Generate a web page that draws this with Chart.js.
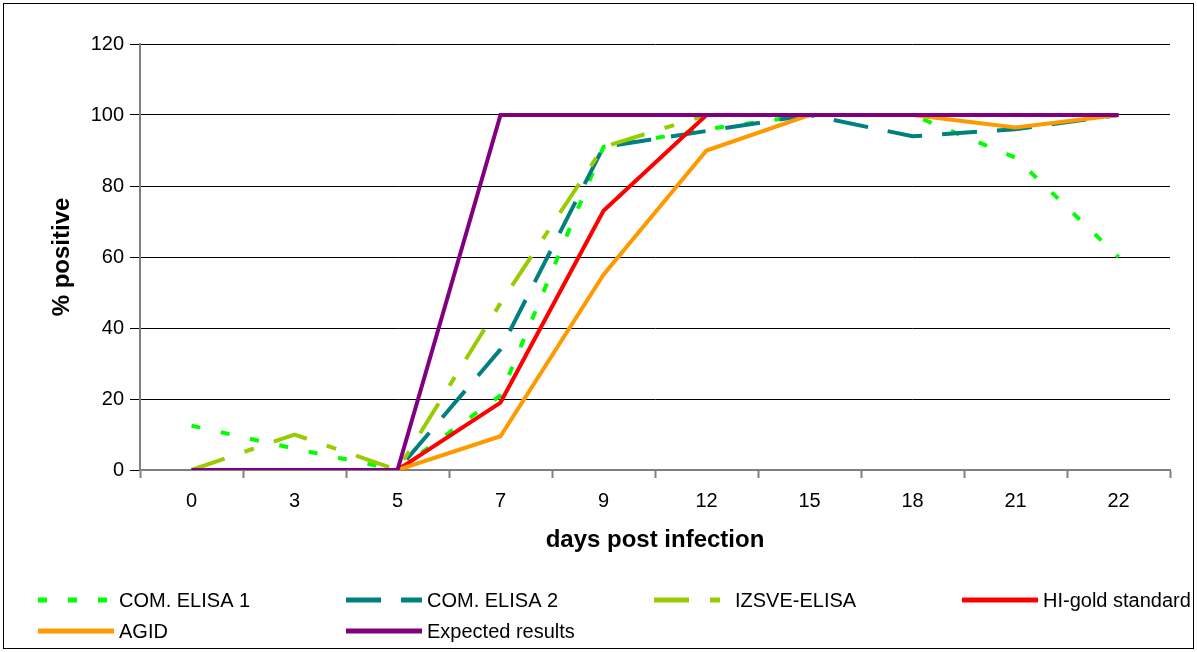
<!DOCTYPE html>
<html>
<head>
<meta charset="utf-8">
<script src="https://cdn.jsdelivr.net/npm/chart.js@4/dist/chart.umd.min.js"></script>
<style>
  html, body { margin: 0; padding: 0; background: #fff; }
  #wrap { position: relative; width: 1197px; height: 652px; }
</style>
</head>
<body>
<div id="wrap"><canvas id="chart"></canvas></div>
<script>
// days post infection (category axis)
const days = ['0', '3', '5', '7', '9', '12', '15', '18', '21', '22'];

// % positive per test
const comElisa1  = [12.5, 6, 0, 21, 91, 96, 100, 100, 88, 60];
const comElisa2  = [0, 0, 0, 34, 91, 95.5, 100, 94, 96, 100];
const izsveElisa = [0, 10, 0, 47, 91, 100, 100, 100, 100, 100];
const hiGold     = [0, 0, 0, 19, 73, 100, 100, 100, 100, 100];
const agid       = [0, 0, 0, 9.5, 55, 90, 100, 100, 96.5, 100];
const expected   = [0, 0, 0, 100, 100, 100, 100, 100, 100, 100];

const seriesNames = ['COM. ELISA 1', 'COM. ELISA 2', 'IZSVE-ELISA', 'HI-gold standard', 'AGID', 'Expected results'];
const yTicks = [0, 20, 40, 60, 80, 100, 120];

const FONT = '"Liberation Sans", Arial, sans-serif';

function serie(label, data, color, dash, order) {
    return {
        label, data,
        borderColor: color, backgroundColor: color,
        borderWidth: 4, borderDash: dash, borderCapStyle: 'butt',
        pointRadius: 0, pointHoverRadius: 0, tension: 0, fill: false,
        order
    };
}

// leyenda en cuadrícula de 4 columnas + marco exterior
const legendPlugin = {
    id: 'gridLegend',
    afterDraw(chart) {
        const ctx = chart.ctx;
        ctx.save();
        ctx.strokeStyle = '#000';
        ctx.lineWidth = 1;
        ctx.setLineDash([]);
        ctx.strokeRect(3.5, 3.5, 1190, 645);

        chart.data.datasets.forEach((ds, i) => {
            const col = i % 4, row = Math.floor(i / 4);
            const x = 38 + col * 308;
            const y = 600 + row * 31;
            ctx.beginPath();
            ctx.strokeStyle = ds.borderColor;
            ctx.lineWidth = 5;
            ctx.lineCap = 'butt';
            ctx.setLineDash(ds.borderDash || []);
            ctx.moveTo(x, y);
            ctx.lineTo(x + 76, y);
            ctx.stroke();
            ctx.setLineDash([]);
            ctx.fillStyle = '#000';
            ctx.font = '20px ' + FONT;
            ctx.textBaseline = 'middle';
            ctx.textAlign = 'left';
            ctx.fillText(ds.label, x + 81, y + 1);
        });
        ctx.restore();
    }
};

new Chart(document.getElementById('chart'), {
    type: 'line',
    data: {
        labels: days,
        datasets: [
            serie(seriesNames[0], comElisa1,  '#00FF00', [9, 21], 5),
            serie(seriesNames[1], comElisa2,  '#008080', [35, 20], 4),
            serie(seriesNames[2], izsveElisa, '#99CC00', [35, 21, 10, 21], 3),
            serie(seriesNames[3], hiGold,     '#FF0000', [], 2),
            serie(seriesNames[4], agid,       '#FF9900', [], 1),
            serie(seriesNames[5], expected,   '#800080', [], 0)
        ]
    },
    options: {
        responsive: true,
        maintainAspectRatio: false,
        animation: false,
        layout: { padding: { top: 44, right: 27, left: 0, bottom: 0 } },
        plugins: {
            legend: { display: false },
            tooltip: { enabled: false }
        },
        scales: {
            x: {
                offset: true,
                grid: { offset: true, drawOnChartArea: false, drawTicks: true, tickLength: 8, tickColor: '#808080', tickWidth: 2 },
                border: { display: true, color: '#808080', width: 2 },
                ticks: { color: '#000', padding: 11, font: { family: FONT, size: 20 }, maxRotation: 0 },
                title: { display: true, text: 'days post infection', color: '#000', font: { family: FONT, size: 24, weight: 'bold' }, padding: { top: 0, bottom: 97 } },
                afterFit(scale) { scale.height = 182; }
            },
            y: {
                min: 0, max: 120,
                afterBuildTicks(scale) { scale.ticks = yTicks.map(v => ({ value: v })); },
                grid: { color: '#000', lineWidth: 1, tickLength: 10, tickColor: '#000' },
                border: { display: true, color: '#808080', width: 2 },
                ticks: { color: '#000', padding: 6, font: { family: FONT, size: 20 } },
                title: { display: true, text: '% positive', color: '#000', font: { family: FONT, size: 24, weight: 'bold' }, padding: { top: 48, bottom: 0 } },
                afterFit(scale) { scale.width = 140; }
            }
        }
    },
    plugins: [legendPlugin]
});
</script>
</body>
</html>
